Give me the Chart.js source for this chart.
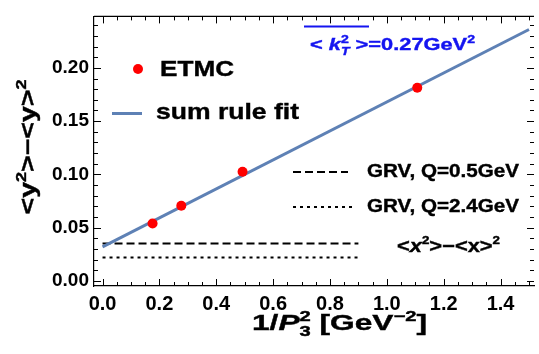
<!DOCTYPE html>
<html>
<head>
<meta charset="utf-8">
<script src="https://cdn.jsdelivr.net/npm/chart.js@4.4.1/dist/chart.umd.min.js"></script>
<style>
html, body { margin: 0; padding: 0; background: #fff; }
</style>
</head>
<body>
<canvas id="chart" width="539" height="354"></canvas>
<script>
const FONT = "'Liberation Sans', Arial, sans-serif";

// data
const etmcX = [0.176, 0.277, 0.4925, 1.107];
const etmcY = [0.0538, 0.0705, 0.1024, 0.1814];
const fitX = [0, 1.5];
const fitY = [0.032, 0.236];
const grvX = [0, 0.9];
const grvLowQ = [0.035, 0.035];
const grvHighQ = [0.022, 0.022];

const seriesLabels = ["ETMC", "sum rule fit", "GRV, Q=0.5GeV", "GRV, Q=2.4GeV"];

const toPoints = (xs, ys) => xs.map((x, i) => ({ x, y: ys[i] }));

// rich text: parts are [text, kind], kind = "", "i", "sup", or ["", "subsup", sub, sup, italicSub]
function layoutRich(ctx, parts, size) {
	const small = Math.round(size * 0.62);
	const runs = [];
	let cx = 0;
	parts.forEach((p) => {
		const [t, kind] = p;
		if (kind === "subsup") {
			const f1 = `${p[4] ? "italic " : ""}bold ${small}px ${FONT}`;
			const f2 = `bold ${small}px ${FONT}`;
			ctx.font = f1;
			const w1 = ctx.measureText(p[2]).width;
			ctx.font = f2;
			const w2 = ctx.measureText(p[3]).width;
			runs.push({ t: p[2], font: f1, x: cx, y: size * 0.28 });
			runs.push({ t: p[3], font: f2, x: cx, y: -size * 0.4 });
			cx += Math.max(w1, w2);
			return;
		}
		let fs = size;
		let dy = 0;
		let style = "";
		if (kind === "sup") { fs = small; dy = -size * 0.4; }
		if (kind === "i") style = "italic ";
		const font = `${style}bold ${fs}px ${FONT}`;
		ctx.font = font;
		runs.push({ t, font, x: cx, y: dy });
		cx += ctx.measureText(t).width;
	});
	return { runs, width: cx };
}

// draws the text stretched to the width it has in the picture
function drawRich(ctx, parts, x, y, size, width, color, align) {
	const { runs, width: natural } = layoutRich(ctx, parts, size);
	const sx = width / natural;
	ctx.save();
	ctx.translate(align === "center" ? x - width / 2 : x, y);
	ctx.scale(sx, 1);
	ctx.fillStyle = color;
	ctx.strokeStyle = color;
	ctx.lineWidth = 0.4;
	ctx.textBaseline = "alphabetic";
	ctx.textAlign = "left";
	runs.forEach((r) => {
		ctx.font = r.font;
		ctx.fillText(r.t, r.x, r.y);
		ctx.strokeText(r.t, r.x, r.y);
	});
	ctx.restore();
}

const frameTicks = {
	id: "frameTicks",
	afterDraw(chart) {
		const { ctx, chartArea: a, scales: { x, y } } = chart;
		ctx.save();
		ctx.strokeStyle = "#000";
		ctx.lineWidth = 1.2;
		ctx.beginPath();
		ctx.moveTo(a.left, a.top);
		ctx.lineTo(a.right, a.top);
		ctx.stroke();
		ctx.lineWidth = 1;
		for (let i = 0; i * 0.05 <= x.max; i++) {
			const px = Math.round(x.getPixelForValue(i * 0.05)) + 0.5;
			const len = i % 4 === 0 ? 7 : 4;
			ctx.beginPath();
			ctx.moveTo(px, a.bottom);
			ctx.lineTo(px, a.bottom - len);
			ctx.moveTo(px, a.top);
			ctx.lineTo(px, a.top + len);
			ctx.stroke();
		}
		for (let i = 0; i * 0.01 <= y.max; i++) {
			const py = Math.round(y.getPixelForValue(i * 0.01)) + 0.5;
			const len = i % 5 === 0 ? 7 : 4;
			ctx.beginPath();
			ctx.moveTo(a.left, py);
			ctx.lineTo(a.left + len, py);
			ctx.moveTo(a.right, py);
			ctx.lineTo(a.right - len, py);
			ctx.stroke();
		}
		ctx.restore();
	},
};

const texts = {
	id: "texts",
	afterDraw(chart) {
		const { ctx } = chart;
		const ds = chart.data.datasets;
		ctx.save();

		// axis titles
		drawRich(ctx, [["1/", ""], ["P", "i"], ["", "subsup", "3", "2"], [" [GeV", ""], ["\u22122", "sup"], ["]", ""]], 252, 330, 22, 175, "#000");
		ctx.save();
		ctx.translate(35, 147);
		ctx.rotate(-Math.PI / 2);
		drawRich(ctx, [["<y", ""], ["2", "sup"], [">\u2212<y>", ""], ["2", "sup"]], 0, 0, 22, 135, "#000", "center");
		ctx.restore();

		// annotation
		const blue = "#1414f0";
		drawRich(ctx, [["< ", ""], ["k", "i"], ["", "subsup", "T", "2", true], [" >=0.27GeV", ""], ["2", "sup"]], 310, 50, 17, 165, blue);
		ctx.strokeStyle = blue;
		ctx.lineWidth = 2;
		ctx.beginPath();
		ctx.moveTo(304, 26.5);
		ctx.lineTo(369, 26.5);
		ctx.stroke();

		// legend top left
		ctx.fillStyle = ds[0].backgroundColor;
		ctx.beginPath();
		ctx.arc(138, 69, 5, 0, Math.PI * 2);
		ctx.fill();
		drawRich(ctx, [[ds[0].label, ""]], 160, 76, 22, 74, "#000");
		ctx.strokeStyle = ds[1].borderColor;
		ctx.lineWidth = ds[1].borderWidth;
		ctx.beginPath();
		ctx.moveTo(112, 113.5);
		ctx.lineTo(142, 113.5);
		ctx.stroke();
		drawRich(ctx, [[ds[1].label, ""]], 156, 118.5, 22, 143, "#000");

		// legend GRV
		ctx.strokeStyle = "#000";
		ctx.lineWidth = 2;
		ctx.setLineDash(ds[2].borderDash);
		ctx.beginPath();
		ctx.moveTo(293, 172);
		ctx.lineTo(348, 172);
		ctx.stroke();
		ctx.setLineDash(ds[3].borderDash);
		ctx.beginPath();
		ctx.moveTo(293, 207);
		ctx.lineTo(356, 207);
		ctx.stroke();
		ctx.setLineDash([]);
		drawRich(ctx, [[ds[2].label, ""]], 367, 177, 19, 152, "#000");
		drawRich(ctx, [[ds[3].label, ""]], 367, 212, 19, 152, "#000");
		drawRich(ctx, [["<", ""], ["x", "i"], ["2", "sup"], [">\u2212<x>", ""], ["2", "sup"]], 397, 251.5, 18, 103, "#000");

		ctx.restore();
	},
};

const chart = new Chart(document.getElementById("chart"), {
	type: "scatter",
	data: {
		datasets: [
			{
				label: seriesLabels[0],
				data: toPoints(etmcX, etmcY),
				backgroundColor: "#ff0000",
				borderColor: "#ff0000",
				pointRadius: 5,
				pointBorderWidth: 0,
				order: 0,
			},
			{
				label: seriesLabels[1],
				type: "line",
				data: toPoints(fitX, fitY),
				borderColor: "#5e81b5",
				borderWidth: 3,
				pointRadius: 0,
				order: 1,
			},
			{
				label: seriesLabels[2],
				type: "line",
				data: toPoints(grvX, grvLowQ),
				borderColor: "#000",
				borderWidth: 2,
				borderDash: [8, 4],
				pointRadius: 0,
				order: 2,
			},
			{
				label: seriesLabels[3],
				type: "line",
				data: toPoints(grvX, grvHighQ),
				borderColor: "#000",
				borderWidth: 2,
				borderDash: [3, 4],
				pointRadius: 0,
				order: 3,
			},
		],
	},
	options: {
		responsive: false,
		animation: false,
		devicePixelRatio: 1,
		layout: { padding: { left: 0, right: 0, top: 8, bottom: 0 } },
		plugins: { legend: { display: false }, tooltip: { enabled: false } },
		scales: {
			x: {
				type: "linear",
				min: -0.03,
				max: 1.5176,
				afterFit: (s) => { s.height = 68; },
				grid: { display: true, drawOnChartArea: false, drawTicks: false },
				border: { display: true, color: "#000", width: 1.2 },
				ticks: {
					stepSize: 0.2,
					includeBounds: false,
					padding: 6,
					color: "#000",
					font: { family: FONT, size: 20, weight: "bold" },
					callback: (v) => Number(v).toFixed(1),
				},
			},
			y: {
				type: "linear",
				min: -0.0048,
				max: 0.2483,
				afterFit: (s) => { s.width = 94; },
				grid: { display: true, drawOnChartArea: false, drawTicks: false },
				border: { display: true, color: "#000", width: 1.2 },
				ticks: {
					stepSize: 0.05,
					includeBounds: false,
					padding: 5,
					color: "#000",
					font: { family: FONT, size: 19, weight: "bold" },
					callback: (v) => Number(v).toFixed(2),
				},
			},
		},
	},
	plugins: [frameTicks, texts],
});
</script>
</body>
</html>
